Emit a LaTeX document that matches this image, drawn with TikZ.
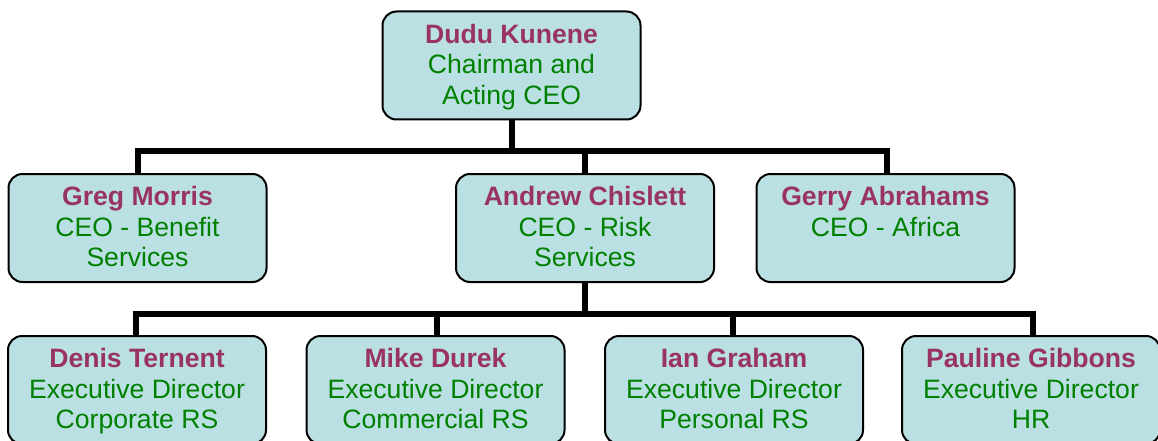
\documentclass[tikz,border=0pt]{standalone}
\usepackage{fontspec}
\setmainfont{Liberation Sans}
\definecolor{boxfill}{HTML}{BBE0E3}
\definecolor{namecol}{HTML}{993366}
\definecolor{rolecol}{HTML}{008000}
\newcommand{\nm}[1]{{\color{namecol}\bfseries\rule{0pt}{25.4pt}#1}}
\begin{document}
\begin{tikzpicture}[x=1pt,y=-1pt,
  person/.style={draw=black, line width=2pt, fill=boxfill, rounded corners=14pt,
    minimum width=258pt, minimum height=108pt, inner sep=0pt,
    align=center, text=rolecol, font=\fontsize{26.6}{30.5}\selectfont},
  conn/.style={line width=6pt, draw=black}]
\useasboundingbox (0,0) rectangle (1158,441);
\coordinate (bus1) at (512,151);
\coordinate (bus2) at (585,314);
% nodes
\node[person] (dudu) at (511.5,65.5) {\nm{Dudu Kunene}\\Chairman and\\Acting CEO\strut};
\node[person] (greg) at (137.5,228) {\nm{Greg Morris}\\CEO - Benefit\\Services\strut};
\node[person] (andrew) at (585,228) {\nm{Andrew Chislett}\\CEO - Risk\\Services\strut};
\node[person] (gerry) at (885.5,228) {\nm{Gerry Abrahams}\\CEO - Africa\\\strut};
\node[person] (denis) at (137,390) {\nm{Denis Ternent}\\Executive Director\\Corporate RS\strut};
\node[person] (mike) at (435.5,390) {\nm{Mike Durek}\\Executive Director\\Commercial RS\strut};
\node[person] (ian) at (734,390) {\nm{Ian Graham}\\Executive Director\\Personal RS\strut};
\node[person] (pauline) at (1031,390) {\nm{Pauline Gibbons}\\Executive Director\\HR\strut};
% level 1
\draw[conn] (dudu.south) -- (dudu.south |- bus1);
\draw[conn] (greg.north) -- (greg.north |- bus1) -- ([xshift=1.5pt]gerry.north |- bus1) -- ([xshift=1.5pt]gerry.north);
\draw[conn] (andrew.north) -- (andrew.north |- bus1);
% level 2
\draw[conn] (andrew.south) -- (andrew.south |- bus2);
\draw[conn] ([xshift=-1pt]denis.north) -- ([xshift=-1pt]denis.north |- bus2) -- ([xshift=2pt]pauline.north |- bus2) -- ([xshift=2pt]pauline.north);
\draw[conn] ([xshift=1pt]mike.north) -- ([xshift=1pt]mike.north |- bus2);
\draw[conn] ([xshift=-1pt]ian.north) -- ([xshift=-1pt]ian.north |- bus2);
\end{tikzpicture}
\end{document}
